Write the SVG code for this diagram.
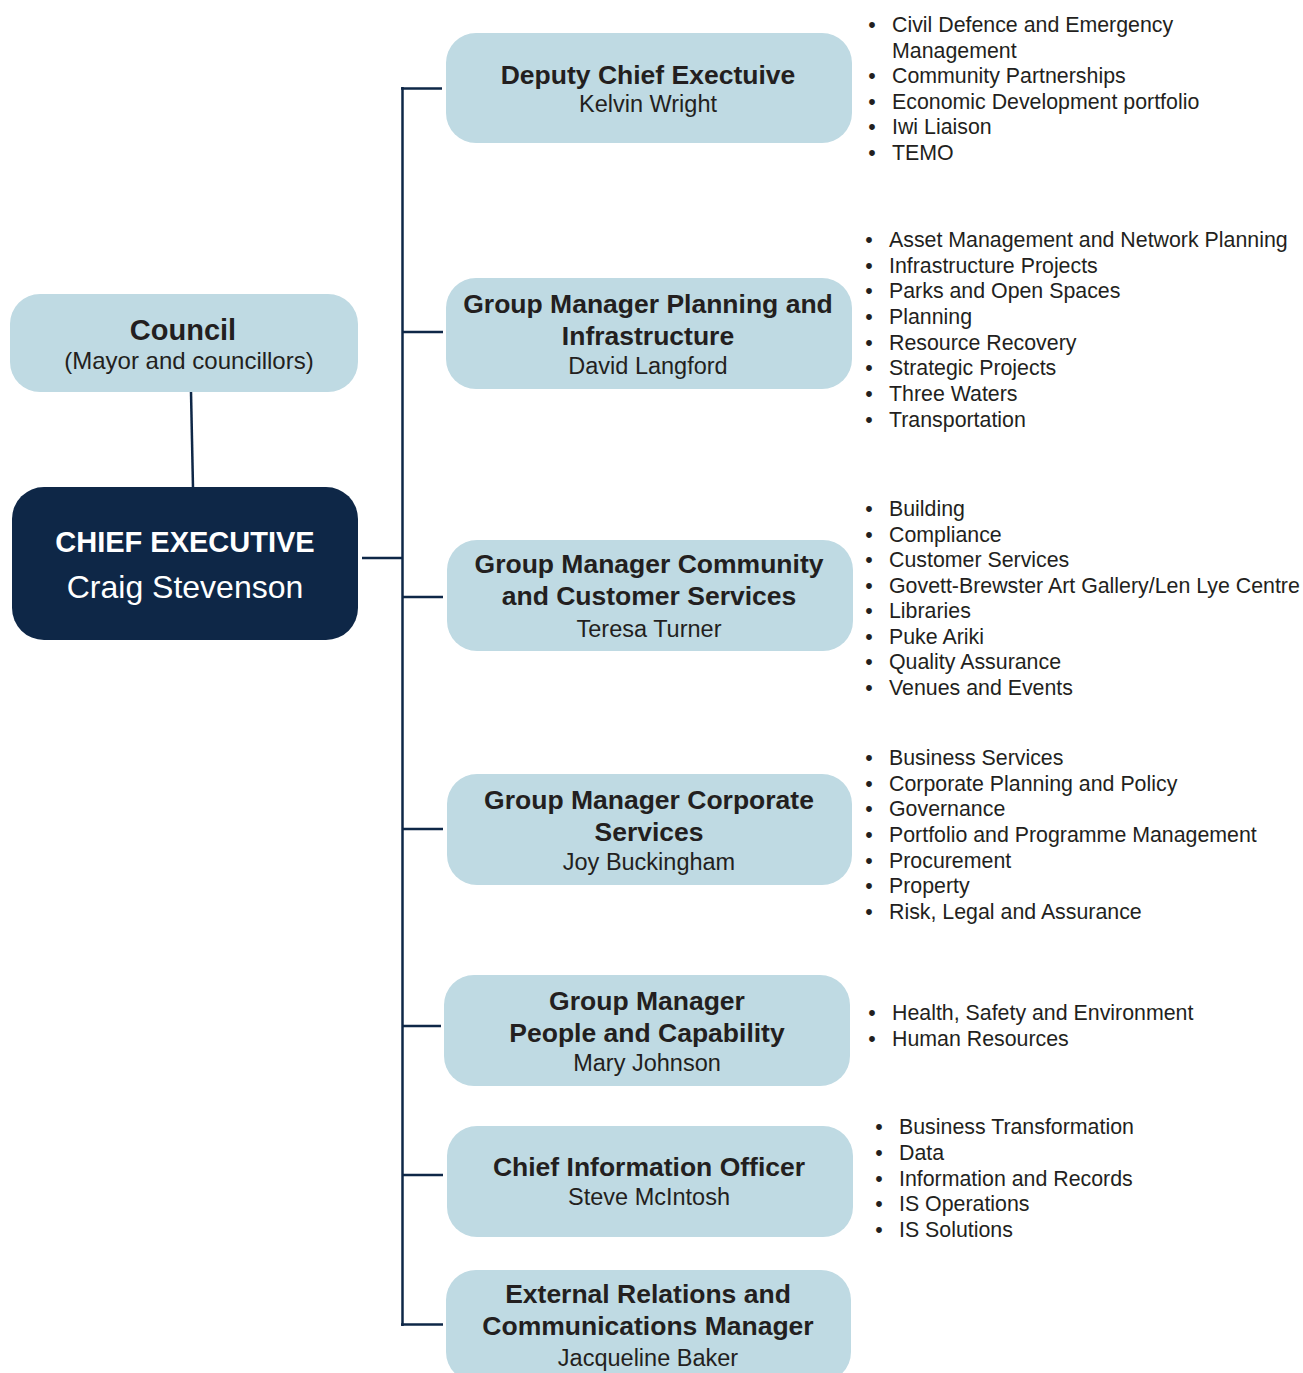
<svg xmlns="http://www.w3.org/2000/svg" width="1303" height="1373" viewBox="0 0 1303 1373">
<style>
  .box { fill: #bfdae3; }
  .ce { fill: #0e2747; }
  .t { font-family: "Liberation Sans", Arial, sans-serif; fill: #231f20; text-anchor: middle; }
  .tb { font-weight: bold; font-size: 26.5px; }
  .nm { font-size: 23.5px; }
  .li { font-family: "Liberation Sans", Arial, sans-serif; fill: #231f20; font-size: 21.35px; }
  .con { stroke: #0e2747; stroke-width: 2.5; fill: none; }
</style>
<rect width="1303" height="1373" fill="#ffffff"/>

<g id="connectors">
  <line class="con" x1="191" y1="392" x2="193" y2="488"/>
  <line class="con" x1="362" y1="558" x2="403" y2="558"/>
  <line class="con" x1="402.5" y1="87" x2="402.5" y2="1326"/>
  <line class="con" x1="401" y1="88.5" x2="442" y2="88.5"/>
  <line class="con" x1="402" y1="332" x2="443" y2="332"/>
  <line class="con" x1="402" y1="597" x2="443" y2="597"/>
  <line class="con" x1="402" y1="829" x2="443" y2="829"/>
  <line class="con" x1="402" y1="1026" x2="441" y2="1026"/>
  <line class="con" x1="402" y1="1175" x2="443" y2="1175"/>
  <line class="con" x1="401" y1="1324.5" x2="443" y2="1324.5"/>
</g>

<g id="council">
  <rect class="box" x="10" y="294" width="348" height="98" rx="30"/>
  <text class="t" x="183" y="340" font-weight="bold" font-size="29">Council</text>
  <text class="t" x="189" y="369" font-size="24">(Mayor and councillors)</text>
</g>

<g id="chief-executive">
  <rect class="ce" x="12" y="487" width="346" height="153" rx="32"/>
  <text class="t" x="185" y="552" font-weight="bold" font-size="29" style="fill:#ffffff">CHIEF EXECUTIVE</text>
  <text class="t" x="185" y="598" font-size="32" style="fill:#ffffff">Craig Stevenson</text>
</g>

<g id="deputy">
  <rect class="box" x="446" y="33" width="406" height="110" rx="30"/>
  <text class="t tb" x="648" y="84">Deputy Chief Exectuive</text>
  <text class="t nm" x="648" y="112">Kelvin Wright</text>
</g>

<g id="planning">
  <rect class="box" x="446" y="278" width="406" height="111" rx="30"/>
  <text class="t tb" x="648" y="313">Group Manager Planning and</text>
  <text class="t tb" x="648" y="345">Infrastructure</text>
  <text class="t nm" x="648" y="374">David Langford</text>
</g>

<g id="community">
  <rect class="box" x="447" y="540" width="406" height="111" rx="30"/>
  <text class="t tb" x="649" y="573">Group Manager Community</text>
  <text class="t tb" x="649" y="605">and Customer Services</text>
  <text class="t nm" x="649" y="636.5">Teresa Turner</text>
</g>

<g id="corporate">
  <rect class="box" x="447" y="774" width="405" height="111" rx="30"/>
  <text class="t tb" x="649" y="809">Group Manager Corporate</text>
  <text class="t tb" x="649" y="841">Services</text>
  <text class="t nm" x="649" y="870">Joy Buckingham</text>
</g>

<g id="people">
  <rect class="box" x="444" y="975" width="406" height="111" rx="30"/>
  <text class="t tb" x="647" y="1010">Group Manager</text>
  <text class="t tb" x="647" y="1042">People and Capability</text>
  <text class="t nm" x="647" y="1071">Mary Johnson</text>
</g>

<g id="cio">
  <rect class="box" x="447" y="1126" width="406" height="111" rx="30"/>
  <text class="t tb" x="649" y="1176">Chief Information Officer</text>
  <text class="t nm" x="649" y="1205">Steve McIntosh</text>
</g>

<g id="external">
  <rect class="box" x="446" y="1270" width="405" height="112" rx="30"/>
  <text class="t tb" x="648" y="1303">External Relations and</text>
  <text class="t tb" x="648" y="1335">Communications Manager</text>
  <text class="t nm" x="648" y="1366">Jacqueline Baker</text>
</g>

<g id="deputy-list" class="li">
  <text text-anchor="middle"><tspan x="872" y="31.5">•</tspan><tspan x="872" y="83">•</tspan><tspan x="872" y="108.5">•</tspan><tspan x="872" y="134">•</tspan><tspan x="872" y="159.5">•</tspan></text>
  <text><tspan x="892" y="31.5">Civil Defence and Emergency</tspan><tspan x="892" y="57.5">Management</tspan><tspan x="892" y="83">Community Partnerships</tspan><tspan x="892" y="108.5">Economic Development portfolio</tspan><tspan x="892" y="134">Iwi Liaison</tspan><tspan x="892" y="159.5">TEMO</tspan></text>
</g>

<g id="planning-list" class="li">
  <text text-anchor="middle"><tspan x="869" y="247">•</tspan><tspan x="869" y="272.7">•</tspan><tspan x="869" y="298.3">•</tspan><tspan x="869" y="324">•</tspan><tspan x="869" y="349.6">•</tspan><tspan x="869" y="375.3">•</tspan><tspan x="869" y="400.9">•</tspan><tspan x="869" y="426.5">•</tspan></text>
  <text><tspan x="889" y="247">Asset Management and Network Planning</tspan><tspan x="889" y="272.7">Infrastructure Projects</tspan><tspan x="889" y="298.3">Parks and Open Spaces</tspan><tspan x="889" y="324">Planning</tspan><tspan x="889" y="349.6">Resource Recovery</tspan><tspan x="889" y="375.3">Strategic Projects</tspan><tspan x="889" y="400.9">Three Waters</tspan><tspan x="889" y="426.5">Transportation</tspan></text>
</g>

<g id="community-list" class="li">
  <text text-anchor="middle"><tspan x="869" y="516">•</tspan><tspan x="869" y="541.6">•</tspan><tspan x="869" y="567.1">•</tspan><tspan x="869" y="592.7">•</tspan><tspan x="869" y="618.3">•</tspan><tspan x="869" y="643.9">•</tspan><tspan x="869" y="669.4">•</tspan><tspan x="869" y="695">•</tspan></text>
  <text><tspan x="889" y="516">Building</tspan><tspan x="889" y="541.6">Compliance</tspan><tspan x="889" y="567.1">Customer Services</tspan><tspan x="889" y="592.7">Govett-Brewster Art Gallery/Len Lye Centre</tspan><tspan x="889" y="618.3">Libraries</tspan><tspan x="889" y="643.9">Puke Ariki</tspan><tspan x="889" y="669.4">Quality Assurance</tspan><tspan x="889" y="695">Venues and Events</tspan></text>
</g>

<g id="corporate-list" class="li">
  <text text-anchor="middle"><tspan x="869" y="765">•</tspan><tspan x="869" y="790.7">•</tspan><tspan x="869" y="816.3">•</tspan><tspan x="869" y="842">•</tspan><tspan x="869" y="867.7">•</tspan><tspan x="869" y="893.3">•</tspan><tspan x="869" y="919">•</tspan></text>
  <text><tspan x="889" y="765">Business Services</tspan><tspan x="889" y="790.7">Corporate Planning and Policy</tspan><tspan x="889" y="816.3">Governance</tspan><tspan x="889" y="842">Portfolio and Programme Management</tspan><tspan x="889" y="867.7">Procurement</tspan><tspan x="889" y="893.3">Property</tspan><tspan x="889" y="919">Risk, Legal and Assurance</tspan></text>
</g>

<g id="people-list" class="li">
  <text text-anchor="middle"><tspan x="872" y="1020">•</tspan><tspan x="872" y="1045.7">•</tspan></text>
  <text><tspan x="892" y="1020">Health, Safety and Environment</tspan><tspan x="892" y="1045.7">Human Resources</tspan></text>
</g>

<g id="cio-list" class="li">
  <text text-anchor="middle"><tspan x="879" y="1134">•</tspan><tspan x="879" y="1159.7">•</tspan><tspan x="879" y="1185.5">•</tspan><tspan x="879" y="1211.2">•</tspan><tspan x="879" y="1237">•</tspan></text>
  <text><tspan x="899" y="1134">Business Transformation</tspan><tspan x="899" y="1159.7">Data</tspan><tspan x="899" y="1185.5">Information and Records</tspan><tspan x="899" y="1211.2">IS Operations</tspan><tspan x="899" y="1237">IS Solutions</tspan></text>
</g>
</svg>
